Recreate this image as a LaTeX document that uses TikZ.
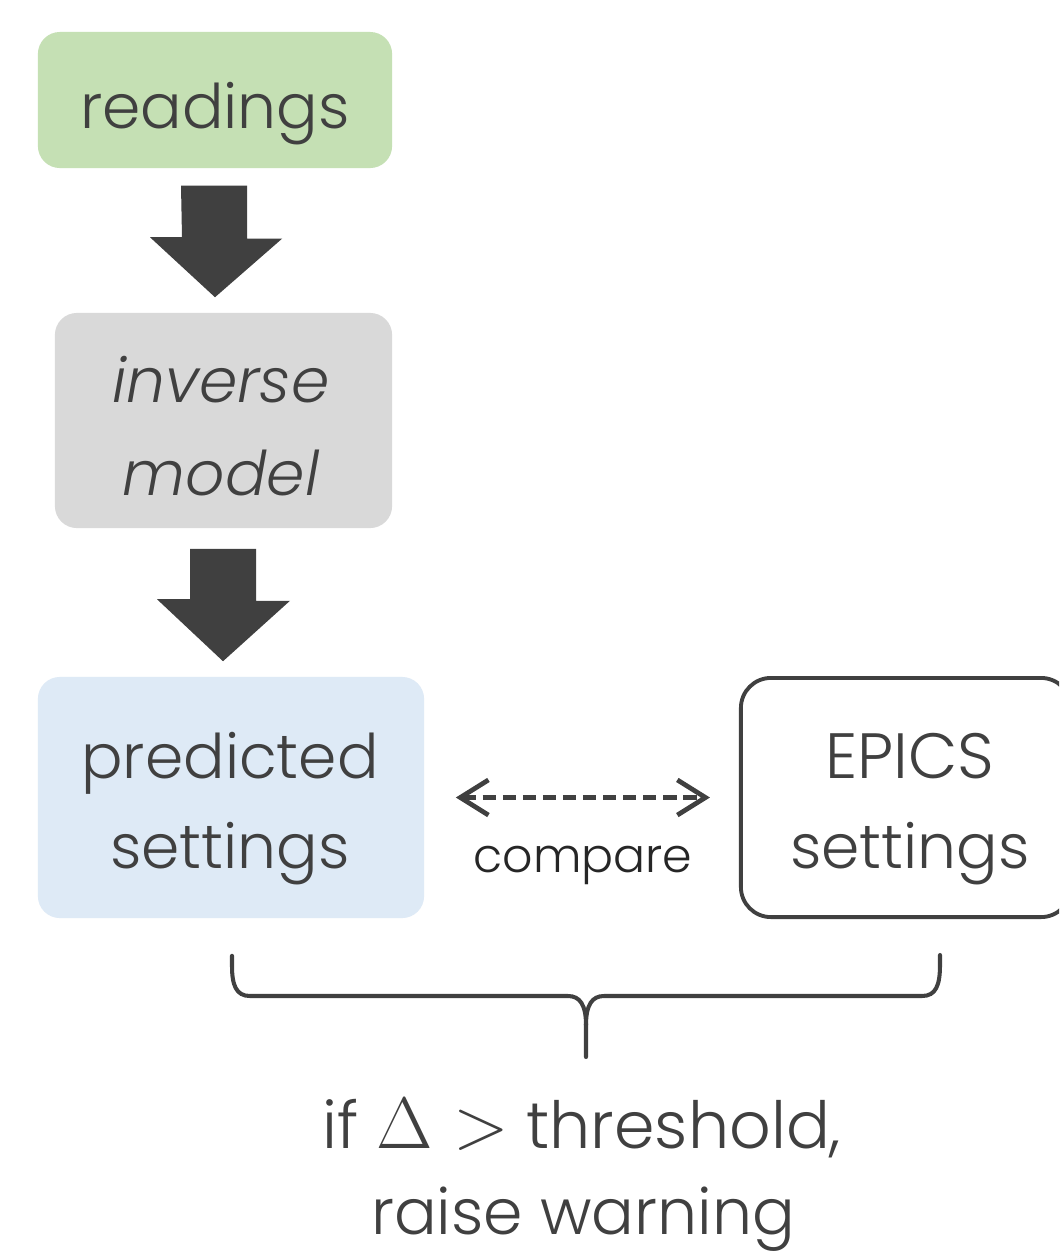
\documentclass[tikz,border=0pt]{standalone}
\usepackage{fontspec}
\setmainfont{Poppins Light}
\usetikzlibrary{arrows.meta,calc}
\definecolor{ink}{HTML}{404040}
\definecolor{gfill}{HTML}{C5E0B4}
\definecolor{grfill}{HTML}{D9D9D9}
\definecolor{bfill}{HTML}{DEEAF6}
\tikzset{
  box/.style={rounded corners=0.22cm, inner sep=0pt},
  bigarrow/.style={fill=ink},
  cmp/.style={draw=ink, line width=1.35pt, dash pattern=on 3.8pt off 1.9pt,
    {Straight Barb[length=8pt,width=10pt,line width=1.35pt]}-{Straight Barb[length=8pt,width=10pt,line width=1.35pt]}},
  bracestyle/.style={draw=ink, line width=1.15pt, line cap=round},
  lbl/.style={text=ink, inner sep=0pt, anchor=base, font=\fontsize{17.5}{22}\selectfont}
}
\begin{document}
\begin{tikzpicture}[x=0.01cm,y=-0.01cm]
\clip (0,0) rectangle (1059,1254);
\fill[white] (0,0) rectangle (1059,1254);

% boxes
\node[box, fill=gfill, minimum width=3.54cm, minimum height=1.36cm] (read) at (215,100) {};
\node[box, fill=grfill, minimum width=3.37cm, minimum height=2.15cm] (inv) at (223.5,420.5) {};
\node[box, fill=bfill, minimum width=3.86cm, minimum height=2.41cm] (pred) at (231,797.5) {};
\node[box, draw=ink, line width=1.1pt, fill=white, minimum width=3.30cm, minimum height=2.39cm, rounded corners=0.3cm] (epics) at (906,797.5) {};

% box texts
\node[lbl] (readt) at (215,128) {readings};
\node[lbl, font=\fontsize{17.5}{22}\selectfont\itshape] (invt1) at (221,402) {inverse};
\node[lbl, font=\fontsize{17.5}{22}\selectfont\itshape] (invt2) at (221,495) {model};
\node[lbl] (predt1) at (230,778) {predicted};
\node[lbl] (predt2) at (230,868) {settings};
\node[lbl, font=\fontsize{18.2}{22}\selectfont] (epicst1) at (910,778) {EPICS};
\node[lbl] (epicst2) at (910,868) {settings};

% block arrows
\fill[bigarrow] ($(read.south)+(-34,17)$) -- ++(66,0) -- ++(0,53) -- ++(35,0) -- ($(inv.north)+(-8.5,-15)$) -- ++(-65,-60) -- ++(32,0) -- cycle;
\fill[bigarrow] ($(inv.south)+(-33.5,20)$) -- ++(66,0) -- ++(0,52) -- ++(34,0) -- ($(pred.north)+(-8,-15)$) -- ++(-66,-62) -- ++(33,0) -- cycle;

% compare arrow
\draw[cmp, shorten <=0.31cm, shorten >=0.29cm] (pred.east) -- (epics.west);
\node[text=black!85, inner sep=0pt, anchor=base, font=\fontsize{13.5}{16}\selectfont] (cmpl) at (583,872) {compare};

% brace
\coordinate (bl) at ($(pred.south)+(1,37)$);
\coordinate (br) at (940,955);
\coordinate (bm) at (586,1057);
\draw[bracestyle] (bl) -- ++(0,10) .. controls (232,985) and (236,996) .. (250,996) -- (568,996)
  .. controls (580,996) and (586,1005) .. (586,1025) -- (bm);
\draw[bracestyle] (br) -- ++(0,10) .. controls (940,985) and (936,996) .. (922,996) -- (604,996)
  .. controls (592,996) and (586,1005) .. (586,1025);

\node[lbl, font=\fontsize{18.5}{22}\selectfont] (w1) at (582,1148) {if {\fontsize{21}{24}\selectfont$\Delta >$} threshold,};
\node[lbl, font=\fontsize{18}{22}\selectfont] (w2) at (583,1234) {raise warning};
\end{tikzpicture}
\end{document}
